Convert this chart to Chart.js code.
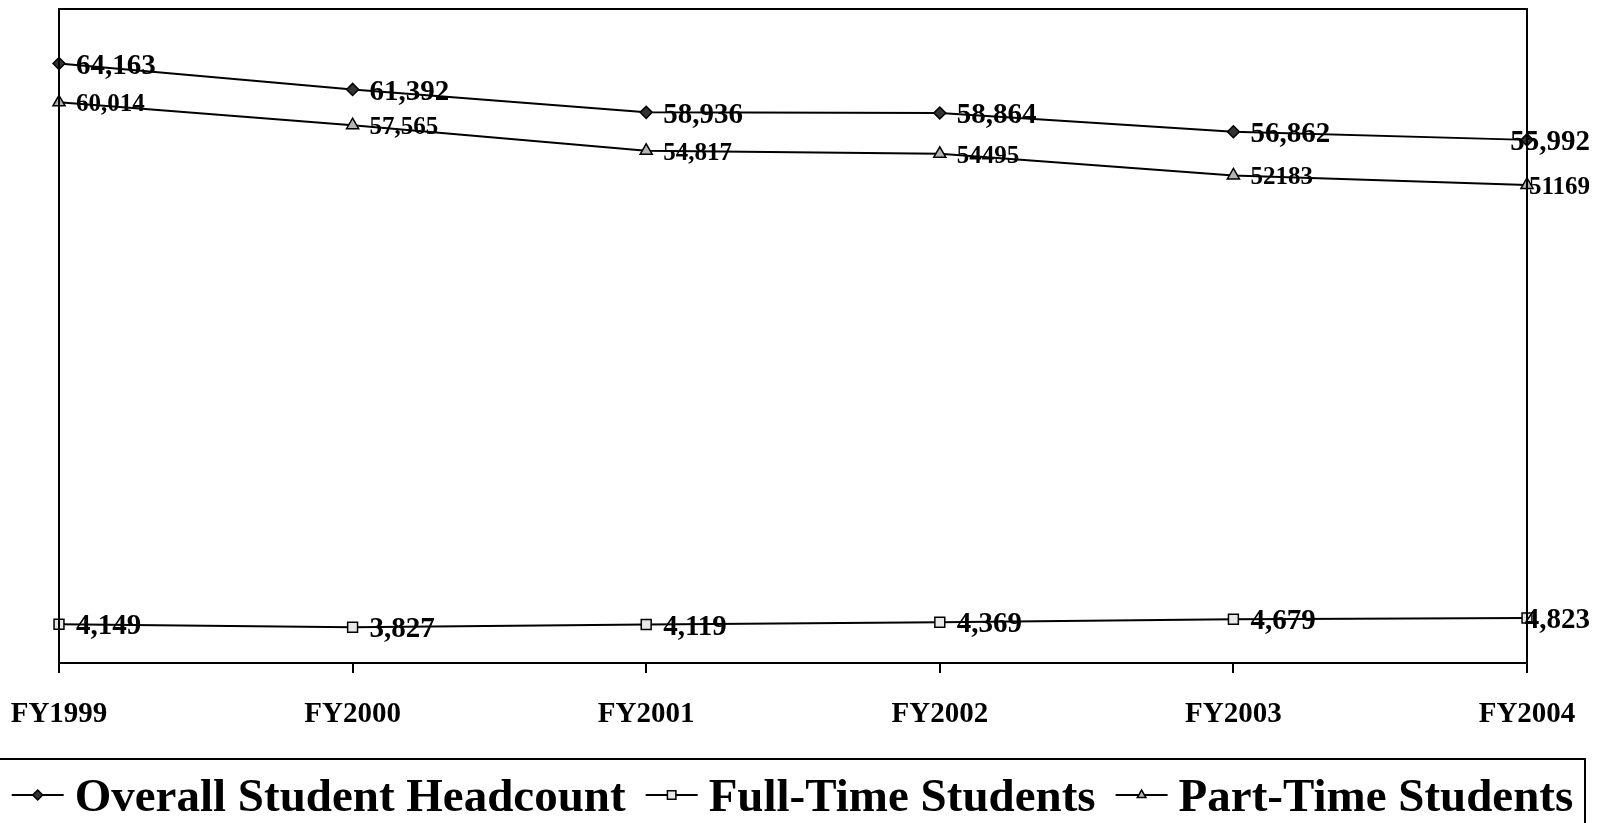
<!DOCTYPE html>
<html>
<head>
<meta charset="utf-8">
<script src="https://cdn.jsdelivr.net/npm/chart.js@4/dist/chart.umd.min.js"></script>
<style>
  html, body { margin: 0; padding: 0; background: #ffffff; }
  #wrap { width: 1606px; height: 823px; position: relative; }
</style>
</head>
<body>
<div id="wrap"><canvas id="c" width="1606" height="823"></canvas></div>
<script>
const categories = ['FY1999', 'FY2000', 'FY2001', 'FY2002', 'FY2003', 'FY2004'];
const overallHeadcount = [64163, 61392, 58936, 58864, 56862, 55992];
const fullTimeStudents = [4149, 3827, 4119, 4369, 4679, 4823];
const partTimeStudents = [60014, 57565, 54817, 54495, 52183, 51169];
const overallLabels = ['64,163', '61,392', '58,936', '58,864', '56,862', '55,992'];
const fullTimeLabels = ['4,149', '3,827', '4,119', '4,369', '4,679', '4,823'];
const partTimeLabels = ['60,014', '57,565', '54,817', '54495', '52183', '51169'];
const seriesNames = ['Overall Student Headcount', 'Full-Time Students', 'Part-Time Students'];
const yMin = 0, yMax = 70000;

const FONT = '"Liberation Serif", "Times New Roman", serif';

const datasets = [
  { label: seriesNames[0], data: overallHeadcount, pointStyle: 'rectRot', pointRadius: 6,
    pointBackgroundColor: '#333333', _labels: overallLabels, _fontSize: 29 },
  { label: seriesNames[1], data: fullTimeStudents, pointStyle: 'rect', pointRadius: 7,
    pointBackgroundColor: '#e8e8e8', _labels: fullTimeLabels, _fontSize: 29 },
  { label: seriesNames[2], data: partTimeStudents, pointStyle: 'triangle', pointRadius: 7,
    pointBackgroundColor: '#b4b4b4', _labels: partTimeLabels, _fontSize: 25 }
].map(d => Object.assign({
  borderColor: '#000000', borderWidth: 2, tension: 0, fill: false,
  pointBorderColor: '#000000', pointBorderWidth: 1.5, pointHoverRadius: 6
}, d));

function drawMarker(ctx, style, x, y, r, fill) {
  ctx.save();
  ctx.fillStyle = fill; ctx.strokeStyle = '#000'; ctx.lineWidth = 1.5;
  ctx.beginPath();
  if (style === 'rectRot') {
    ctx.moveTo(x, y - r); ctx.lineTo(x + r, y); ctx.lineTo(x, y + r); ctx.lineTo(x - r, y); ctx.closePath();
  } else if (style === 'rect') {
    const s = r * Math.SQRT1_2; ctx.rect(x - s, y - s, 2 * s, 2 * s);
  } else {
    const w = r * Math.sqrt(3) / 2;
    ctx.moveTo(x, y - r); ctx.lineTo(x + w, y + r / 2); ctx.lineTo(x - w, y + r / 2); ctx.closePath();
  }
  ctx.fill(); ctx.stroke();
  ctx.restore();
}

const framePlugin = {
  id: 'frame',
  afterDatasetsDraw(chart) {
    const { ctx, chartArea: a } = chart;
    ctx.save();
    ctx.strokeStyle = '#000'; ctx.lineWidth = 2;
    ctx.strokeRect(a.left, a.top, a.right - a.left, a.bottom - a.top);
    ctx.restore();
  }
};

const labelPlugin = {
  id: 'valueLabels',
  afterDatasetsDraw(chart) {
    const ctx = chart.ctx;
    ctx.save();
    ctx.fillStyle = '#000';
    ctx.textAlign = 'left';
    ctx.textBaseline = 'alphabetic';
    chart.data.datasets.forEach((ds, i) => {
      const meta = chart.getDatasetMeta(i);
      ctx.font = 'bold ' + ds._fontSize + 'px ' + FONT;
      meta.data.forEach((pt, j) => {
        const txt = ds._labels[j];
        const w = ctx.measureText(txt).width;
        const x = Math.min(pt.x + 17, chart.width - 16 - w);
        ctx.fillText(txt, x, pt.y + ds._fontSize * 0.35);
      });
    });
    ctx.restore();
  }
};

const legendPlugin = {
  id: 'boxLegend',
  afterDraw(chart) {
    const ctx = chart.ctx;
    const boxLeft = -5, boxRight = 1585, boxTop = 759;
    ctx.save();
    ctx.strokeStyle = '#000'; ctx.lineWidth = 2;
    ctx.strokeRect(boxLeft, boxTop, boxRight - boxLeft, 120);
    ctx.font = 'bold 47px ' + FONT;
    ctx.fillStyle = '#000';
    ctx.textBaseline = 'alphabetic';
    const sample = 52, gap1 = 11, gap2 = 20;
    const widths = chart.data.datasets.map(d => ctx.measureText(d.label).width);
    let total = 0;
    widths.forEach((w, i) => { total += sample + gap1 + w + (i < widths.length - 1 ? gap2 : 0); });
    let x = (0 + boxRight) / 2 - total / 2;
    const ly = 795, by = 811;
    chart.data.datasets.forEach((d, i) => {
      ctx.beginPath(); ctx.lineWidth = 2; ctx.strokeStyle = '#000';
      ctx.moveTo(x, ly); ctx.lineTo(x + sample, ly); ctx.stroke();
      drawMarker(ctx, d.pointStyle, x + sample / 2, ly, d.pointStyle === 'rect' ? 6 : 5, d.pointBackgroundColor);
      x += sample + gap1;
      ctx.fillText(d.label, x, by);
      x += widths[i] + gap2;
    });
    ctx.restore();
  }
};

new Chart(document.getElementById('c'), {
  type: 'line',
  data: { labels: categories, datasets: datasets },
  options: {
    responsive: false,
    animation: false,
    devicePixelRatio: 1,
    layout: { padding: { left: 59, right: 79, top: 9, bottom: 90 } },
    plugins: { legend: { display: false }, tooltip: { enabled: false } },
    scales: {
      x: {
        offset: false,
        grid: { display: true, drawOnChartArea: false, drawTicks: true, tickLength: 10, color: '#000', lineWidth: 2 },
        border: { display: true, color: '#000', width: 2 },
        ticks: { color: '#000', padding: 24, maxRotation: 0, autoSkip: false,
                 font: { family: FONT, size: 29, weight: 'bold' } },
        afterFit(scale) { scale.height = 70; scale.paddingLeft = 0; scale.paddingRight = 0; }
      },
      y: {
        display: false, min: yMin, max: yMax
      }
    }
  },
  plugins: [framePlugin, labelPlugin, legendPlugin]
});
</script>
</body>
</html>
